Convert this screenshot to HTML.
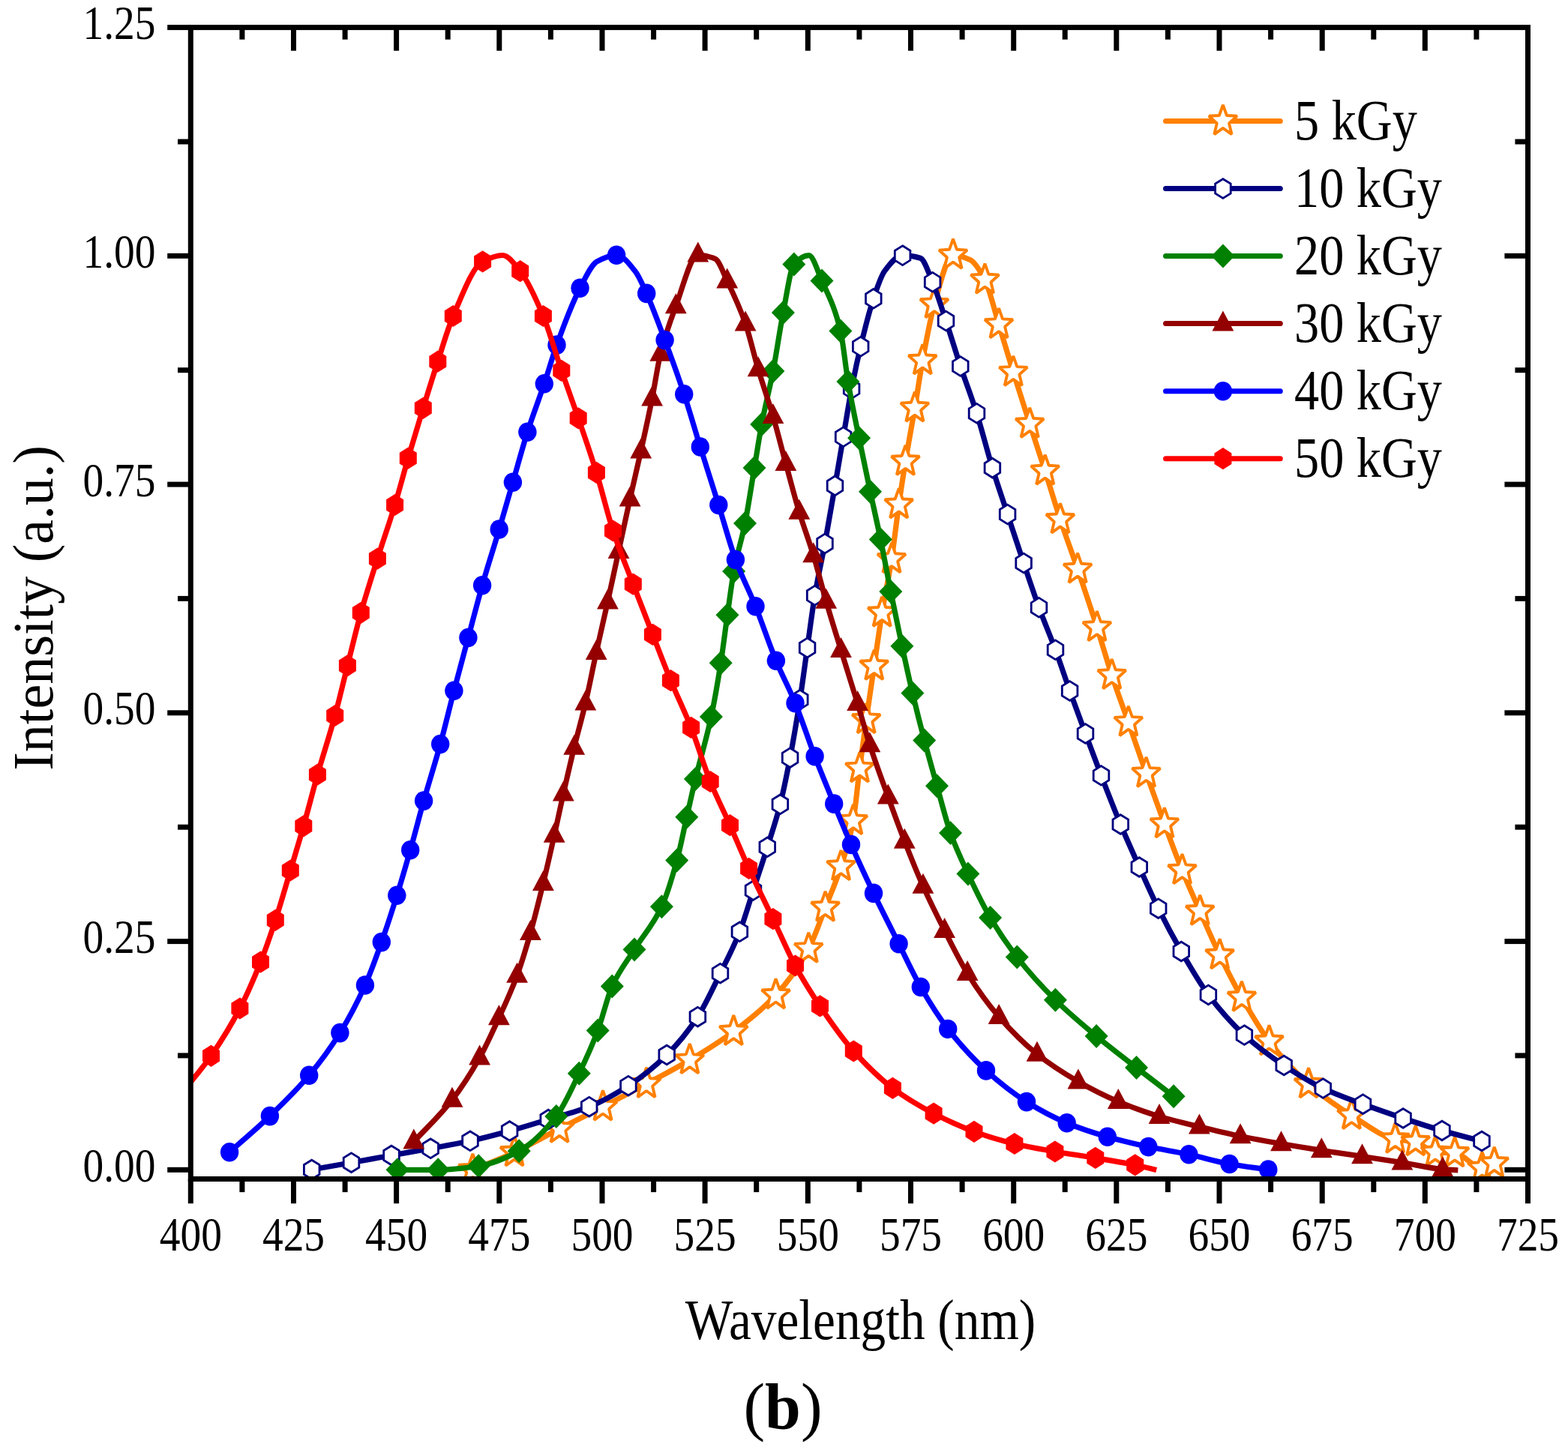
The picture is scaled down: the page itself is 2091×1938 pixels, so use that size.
<!DOCTYPE html>
<html><head><meta charset="utf-8"><title>Intensity vs Wavelength</title>
<style>html,body{margin:0;padding:0;background:#fff;overflow:hidden}svg{display:block}</style>
</head><body>
<svg width="2091" height="1938" viewBox="0 0 2091 1938">
<rect width="100%" height="100%" fill="#fff"/>
<defs><clipPath id="pa"><rect x="254.3" y="36.6" width="1783.2" height="1535.9"/></clipPath></defs>
<g clip-path="url(#pa)">
<path d="M630.4,1560.5 C648.9,1552.7 667.5,1545.7 686.0,1537.0 C706.0,1527.6 726.1,1515.8 746.1,1505.5 C765.4,1495.6 784.7,1486.2 804.0,1476.2 C823.3,1466.2 842.7,1456.1 862.0,1445.7 C881.3,1435.3 900.5,1425.4 919.8,1413.9 C939.3,1402.3 958.8,1390.3 978.3,1375.8 C997.1,1361.9 1015.8,1347.5 1034.6,1327.2 C1049.2,1311.4 1063.7,1292.5 1078.3,1265.6 C1085.7,1251.8 1093.2,1229.4 1100.6,1210.5 C1107.6,1192.8 1114.5,1177.4 1121.5,1155.8 C1126.9,1139.0 1132.4,1123.8 1137.8,1094.9 C1140.7,1079.7 1143.5,1047.3 1146.4,1025.1 C1149.3,1002.4 1152.3,980.7 1155.2,959.9 C1158.7,935.0 1162.2,912.2 1165.7,888.5 C1169.2,864.8 1172.7,839.0 1176.2,817.5 C1180.5,791.3 1184.7,773.4 1189.0,745.8 C1192.2,724.9 1195.5,695.6 1198.7,673.0 C1201.6,652.5 1204.6,633.5 1207.5,615.5 C1211.6,590.1 1215.8,568.7 1219.9,544.3 C1223.4,523.8 1226.8,499.8 1230.3,481.0 C1235.5,452.8 1240.7,423.9 1245.9,405.9 C1254.3,376.9 1262.6,340.3 1271.0,340.3 C1278.5,340.3 1286.1,343.0 1293.6,346.5 C1300.2,349.6 1306.8,360.7 1313.4,373.3 C1319.6,385.1 1325.8,412.7 1332.0,432.9 C1338.4,453.8 1344.9,475.9 1351.3,496.6 C1358.6,520.1 1365.9,542.8 1373.2,565.5 C1380.0,586.7 1386.9,606.9 1393.7,628.3 C1400.4,649.4 1407.2,672.6 1413.9,693.0 C1421.6,716.4 1429.4,736.7 1437.1,759.3 C1445.7,784.5 1454.3,810.0 1462.9,836.8 C1469.5,857.4 1476.1,880.8 1482.7,900.8 C1490.1,923.1 1497.4,942.6 1504.8,963.6 C1512.7,986.2 1520.6,1009.3 1528.5,1031.6 C1536.6,1054.5 1544.8,1077.2 1552.9,1099.1 C1560.8,1120.3 1568.6,1141.6 1576.5,1160.9 C1584.4,1180.3 1592.3,1197.6 1600.2,1215.5 C1609.0,1235.4 1617.8,1255.8 1626.6,1274.0 C1636.4,1294.2 1646.1,1313.4 1655.9,1330.5 C1668.1,1351.9 1680.3,1373.0 1692.5,1389.0 C1710.0,1411.9 1727.5,1430.7 1745.0,1446.0 C1764.1,1462.7 1783.3,1475.8 1802.4,1487.7 C1821.8,1499.8 1841.2,1515.7 1860.6,1519.5 C1869.6,1521.3 1878.7,1521.1 1887.7,1523.0 C1896.5,1524.8 1905.2,1536.4 1914.0,1537.0 C1922.7,1537.6 1931.3,1537.4 1940.0,1538.0 C1952.2,1538.8 1964.3,1558.0 1976.5,1558.0 C1981.9,1558.0 1987.3,1553.7 1992.7,1551.5" fill="none" stroke="#FF8000" stroke-width="7.2" stroke-linejoin="round" stroke-linecap="butt"/>
<polygon points="630.4,1538.8 635.4,1553.0 649.2,1553.8 638.5,1563.4 642.0,1578.1 630.4,1569.8 618.8,1578.1 622.3,1563.4 611.6,1553.8 625.4,1553.0" fill="#fff" stroke="#FF8000" stroke-width="3.9" stroke-linejoin="bevel"/>
<polygon points="686.0,1515.3 691.0,1529.5 704.8,1530.3 694.1,1539.9 697.6,1554.6 686.0,1546.3 674.4,1554.6 677.9,1539.9 667.2,1530.3 681.0,1529.5" fill="#fff" stroke="#FF8000" stroke-width="3.9" stroke-linejoin="bevel"/>
<polygon points="746.1,1483.8 751.1,1498.0 764.9,1498.8 754.2,1508.4 757.7,1523.1 746.1,1514.8 734.5,1523.1 738.0,1508.4 727.3,1498.8 741.1,1498.0" fill="#fff" stroke="#FF8000" stroke-width="3.9" stroke-linejoin="bevel"/>
<polygon points="804.0,1454.5 809.0,1468.7 822.8,1469.5 812.1,1479.1 815.6,1493.8 804.0,1485.5 792.4,1493.8 795.9,1479.1 785.2,1469.5 799.0,1468.7" fill="#fff" stroke="#FF8000" stroke-width="3.9" stroke-linejoin="bevel"/>
<polygon points="862.0,1424.0 867.0,1438.2 880.8,1439.0 870.1,1448.6 873.6,1463.3 862.0,1455.0 850.4,1463.3 853.9,1448.6 843.2,1439.0 857.0,1438.2" fill="#fff" stroke="#FF8000" stroke-width="3.9" stroke-linejoin="bevel"/>
<polygon points="919.8,1392.2 924.8,1406.4 938.6,1407.2 927.9,1416.8 931.4,1431.5 919.8,1423.2 908.2,1431.5 911.7,1416.8 901.0,1407.2 914.8,1406.4" fill="#fff" stroke="#FF8000" stroke-width="3.9" stroke-linejoin="bevel"/>
<polygon points="978.3,1354.1 983.3,1368.3 997.1,1369.1 986.4,1378.7 989.9,1393.4 978.3,1385.1 966.7,1393.4 970.2,1378.7 959.5,1369.1 973.3,1368.3" fill="#fff" stroke="#FF8000" stroke-width="3.9" stroke-linejoin="bevel"/>
<polygon points="1034.6,1305.5 1039.6,1319.7 1053.4,1320.5 1042.7,1330.1 1046.2,1344.8 1034.6,1336.5 1023.0,1344.8 1026.5,1330.1 1015.8,1320.5 1029.6,1319.7" fill="#fff" stroke="#FF8000" stroke-width="3.9" stroke-linejoin="bevel"/>
<polygon points="1078.3,1243.9 1083.3,1258.1 1097.1,1258.9 1086.4,1268.5 1089.9,1283.2 1078.3,1274.9 1066.7,1283.2 1070.2,1268.5 1059.5,1258.9 1073.3,1258.1" fill="#fff" stroke="#FF8000" stroke-width="3.9" stroke-linejoin="bevel"/>
<polygon points="1100.6,1188.8 1105.6,1203.0 1119.4,1203.8 1108.7,1213.4 1112.2,1228.1 1100.6,1219.8 1089.0,1228.1 1092.5,1213.4 1081.8,1203.8 1095.6,1203.0" fill="#fff" stroke="#FF8000" stroke-width="3.9" stroke-linejoin="bevel"/>
<polygon points="1121.5,1134.1 1126.5,1148.3 1140.3,1149.1 1129.6,1158.7 1133.1,1173.4 1121.5,1165.1 1109.9,1173.4 1113.4,1158.7 1102.7,1149.1 1116.5,1148.3" fill="#fff" stroke="#FF8000" stroke-width="3.9" stroke-linejoin="bevel"/>
<polygon points="1137.8,1073.2 1142.8,1087.4 1156.6,1088.2 1145.9,1097.8 1149.4,1112.5 1137.8,1104.2 1126.2,1112.5 1129.7,1097.8 1119.0,1088.2 1132.8,1087.4" fill="#fff" stroke="#FF8000" stroke-width="3.9" stroke-linejoin="bevel"/>
<polygon points="1146.4,1003.4 1151.4,1017.6 1165.2,1018.4 1154.5,1028.0 1158.0,1042.7 1146.4,1034.4 1134.8,1042.7 1138.3,1028.0 1127.6,1018.4 1141.4,1017.6" fill="#fff" stroke="#FF8000" stroke-width="3.9" stroke-linejoin="bevel"/>
<polygon points="1155.2,938.2 1160.2,952.4 1174.0,953.2 1163.3,962.8 1166.8,977.5 1155.2,969.2 1143.6,977.5 1147.1,962.8 1136.4,953.2 1150.2,952.4" fill="#fff" stroke="#FF8000" stroke-width="3.9" stroke-linejoin="bevel"/>
<polygon points="1165.7,866.8 1170.7,881.0 1184.5,881.8 1173.8,891.4 1177.3,906.1 1165.7,897.8 1154.1,906.1 1157.6,891.4 1146.9,881.8 1160.7,881.0" fill="#fff" stroke="#FF8000" stroke-width="3.9" stroke-linejoin="bevel"/>
<polygon points="1176.2,795.8 1181.2,810.0 1195.0,810.8 1184.3,820.4 1187.8,835.1 1176.2,826.8 1164.6,835.1 1168.1,820.4 1157.4,810.8 1171.2,810.0" fill="#fff" stroke="#FF8000" stroke-width="3.9" stroke-linejoin="bevel"/>
<polygon points="1189.0,724.1 1194.0,738.3 1207.8,739.1 1197.1,748.7 1200.6,763.4 1189.0,755.1 1177.4,763.4 1180.9,748.7 1170.2,739.1 1184.0,738.3" fill="#fff" stroke="#FF8000" stroke-width="3.9" stroke-linejoin="bevel"/>
<polygon points="1198.7,651.3 1203.7,665.5 1217.5,666.3 1206.8,675.9 1210.3,690.6 1198.7,682.3 1187.1,690.6 1190.6,675.9 1179.9,666.3 1193.7,665.5" fill="#fff" stroke="#FF8000" stroke-width="3.9" stroke-linejoin="bevel"/>
<polygon points="1207.5,593.8 1212.5,608.0 1226.3,608.8 1215.6,618.4 1219.1,633.1 1207.5,624.8 1195.9,633.1 1199.4,618.4 1188.7,608.8 1202.5,608.0" fill="#fff" stroke="#FF8000" stroke-width="3.9" stroke-linejoin="bevel"/>
<polygon points="1219.9,522.6 1224.9,536.8 1238.7,537.6 1228.0,547.2 1231.5,561.9 1219.9,553.6 1208.3,561.9 1211.8,547.2 1201.1,537.6 1214.9,536.8" fill="#fff" stroke="#FF8000" stroke-width="3.9" stroke-linejoin="bevel"/>
<polygon points="1230.3,459.3 1235.3,473.5 1249.1,474.3 1238.4,483.9 1241.9,498.6 1230.3,490.3 1218.7,498.6 1222.2,483.9 1211.5,474.3 1225.3,473.5" fill="#fff" stroke="#FF8000" stroke-width="3.9" stroke-linejoin="bevel"/>
<polygon points="1245.9,384.2 1250.9,398.4 1264.7,399.2 1254.0,408.8 1257.5,423.5 1245.9,415.2 1234.3,423.5 1237.8,408.8 1227.1,399.2 1240.9,398.4" fill="#fff" stroke="#FF8000" stroke-width="3.9" stroke-linejoin="bevel"/>
<polygon points="1271.0,318.6 1276.0,332.8 1289.8,333.6 1279.1,343.2 1282.6,357.9 1271.0,349.6 1259.4,357.9 1262.9,343.2 1252.2,333.6 1266.0,332.8" fill="#fff" stroke="#FF8000" stroke-width="3.9" stroke-linejoin="bevel"/>
<polygon points="1313.4,351.6 1318.4,365.8 1332.2,366.6 1321.5,376.2 1325.0,390.9 1313.4,382.6 1301.8,390.9 1305.3,376.2 1294.6,366.6 1308.4,365.8" fill="#fff" stroke="#FF8000" stroke-width="3.9" stroke-linejoin="bevel"/>
<polygon points="1332.0,411.2 1337.0,425.4 1350.8,426.2 1340.1,435.8 1343.6,450.5 1332.0,442.2 1320.4,450.5 1323.9,435.8 1313.2,426.2 1327.0,425.4" fill="#fff" stroke="#FF8000" stroke-width="3.9" stroke-linejoin="bevel"/>
<polygon points="1351.3,474.9 1356.3,489.1 1370.1,489.9 1359.4,499.5 1362.9,514.2 1351.3,505.9 1339.7,514.2 1343.2,499.5 1332.5,489.9 1346.3,489.1" fill="#fff" stroke="#FF8000" stroke-width="3.9" stroke-linejoin="bevel"/>
<polygon points="1373.2,543.8 1378.2,558.0 1392.0,558.8 1381.3,568.4 1384.8,583.1 1373.2,574.8 1361.6,583.1 1365.1,568.4 1354.4,558.8 1368.2,558.0" fill="#fff" stroke="#FF8000" stroke-width="3.9" stroke-linejoin="bevel"/>
<polygon points="1393.7,606.6 1398.7,620.8 1412.5,621.6 1401.8,631.2 1405.3,645.9 1393.7,637.6 1382.1,645.9 1385.6,631.2 1374.9,621.6 1388.7,620.8" fill="#fff" stroke="#FF8000" stroke-width="3.9" stroke-linejoin="bevel"/>
<polygon points="1413.9,671.3 1418.9,685.5 1432.7,686.3 1422.0,695.9 1425.5,710.6 1413.9,702.3 1402.3,710.6 1405.8,695.9 1395.1,686.3 1408.9,685.5" fill="#fff" stroke="#FF8000" stroke-width="3.9" stroke-linejoin="bevel"/>
<polygon points="1437.1,737.6 1442.1,751.8 1455.9,752.6 1445.2,762.2 1448.7,776.9 1437.1,768.6 1425.5,776.9 1429.0,762.2 1418.3,752.6 1432.1,751.8" fill="#fff" stroke="#FF8000" stroke-width="3.9" stroke-linejoin="bevel"/>
<polygon points="1462.9,815.1 1467.9,829.3 1481.7,830.1 1471.0,839.7 1474.5,854.4 1462.9,846.1 1451.3,854.4 1454.8,839.7 1444.1,830.1 1457.9,829.3" fill="#fff" stroke="#FF8000" stroke-width="3.9" stroke-linejoin="bevel"/>
<polygon points="1482.7,879.1 1487.7,893.3 1501.5,894.1 1490.8,903.7 1494.3,918.4 1482.7,910.1 1471.1,918.4 1474.6,903.7 1463.9,894.1 1477.7,893.3" fill="#fff" stroke="#FF8000" stroke-width="3.9" stroke-linejoin="bevel"/>
<polygon points="1504.8,941.9 1509.8,956.1 1523.6,956.9 1512.9,966.5 1516.4,981.2 1504.8,972.9 1493.2,981.2 1496.7,966.5 1486.0,956.9 1499.8,956.1" fill="#fff" stroke="#FF8000" stroke-width="3.9" stroke-linejoin="bevel"/>
<polygon points="1528.5,1009.9 1533.5,1024.1 1547.3,1024.9 1536.6,1034.5 1540.1,1049.2 1528.5,1040.9 1516.9,1049.2 1520.4,1034.5 1509.7,1024.9 1523.5,1024.1" fill="#fff" stroke="#FF8000" stroke-width="3.9" stroke-linejoin="bevel"/>
<polygon points="1552.9,1077.4 1557.9,1091.6 1571.7,1092.4 1561.0,1102.0 1564.5,1116.7 1552.9,1108.4 1541.3,1116.7 1544.8,1102.0 1534.1,1092.4 1547.9,1091.6" fill="#fff" stroke="#FF8000" stroke-width="3.9" stroke-linejoin="bevel"/>
<polygon points="1576.5,1139.2 1581.5,1153.4 1595.3,1154.2 1584.6,1163.8 1588.1,1178.5 1576.5,1170.2 1564.9,1178.5 1568.4,1163.8 1557.7,1154.2 1571.5,1153.4" fill="#fff" stroke="#FF8000" stroke-width="3.9" stroke-linejoin="bevel"/>
<polygon points="1600.2,1193.8 1605.2,1208.0 1619.0,1208.8 1608.3,1218.4 1611.8,1233.1 1600.2,1224.8 1588.6,1233.1 1592.1,1218.4 1581.4,1208.8 1595.2,1208.0" fill="#fff" stroke="#FF8000" stroke-width="3.9" stroke-linejoin="bevel"/>
<polygon points="1626.6,1252.3 1631.6,1266.5 1645.4,1267.3 1634.7,1276.9 1638.2,1291.6 1626.6,1283.3 1615.0,1291.6 1618.5,1276.9 1607.8,1267.3 1621.6,1266.5" fill="#fff" stroke="#FF8000" stroke-width="3.9" stroke-linejoin="bevel"/>
<polygon points="1655.9,1308.8 1660.9,1323.0 1674.7,1323.8 1664.0,1333.4 1667.5,1348.1 1655.9,1339.8 1644.3,1348.1 1647.8,1333.4 1637.1,1323.8 1650.9,1323.0" fill="#fff" stroke="#FF8000" stroke-width="3.9" stroke-linejoin="bevel"/>
<polygon points="1692.5,1367.3 1697.5,1381.5 1711.3,1382.3 1700.6,1391.9 1704.1,1406.6 1692.5,1398.3 1680.9,1406.6 1684.4,1391.9 1673.7,1382.3 1687.5,1381.5" fill="#fff" stroke="#FF8000" stroke-width="3.9" stroke-linejoin="bevel"/>
<polygon points="1745.0,1424.3 1750.0,1438.5 1763.8,1439.3 1753.1,1448.9 1756.6,1463.6 1745.0,1455.3 1733.4,1463.6 1736.9,1448.9 1726.2,1439.3 1740.0,1438.5" fill="#fff" stroke="#FF8000" stroke-width="3.9" stroke-linejoin="bevel"/>
<polygon points="1802.4,1466.0 1807.4,1480.2 1821.2,1481.0 1810.5,1490.6 1814.0,1505.3 1802.4,1497.0 1790.8,1505.3 1794.3,1490.6 1783.6,1481.0 1797.4,1480.2" fill="#fff" stroke="#FF8000" stroke-width="3.9" stroke-linejoin="bevel"/>
<polygon points="1860.6,1497.8 1865.6,1512.0 1879.4,1512.8 1868.7,1522.4 1872.2,1537.1 1860.6,1528.8 1849.0,1537.1 1852.5,1522.4 1841.8,1512.8 1855.6,1512.0" fill="#fff" stroke="#FF8000" stroke-width="3.9" stroke-linejoin="bevel"/>
<polygon points="1887.7,1501.3 1892.7,1515.5 1906.5,1516.3 1895.8,1525.9 1899.3,1540.6 1887.7,1532.3 1876.1,1540.6 1879.6,1525.9 1868.9,1516.3 1882.7,1515.5" fill="#fff" stroke="#FF8000" stroke-width="3.9" stroke-linejoin="bevel"/>
<polygon points="1914.0,1515.3 1919.0,1529.5 1932.8,1530.3 1922.1,1539.9 1925.6,1554.6 1914.0,1546.3 1902.4,1554.6 1905.9,1539.9 1895.2,1530.3 1909.0,1529.5" fill="#fff" stroke="#FF8000" stroke-width="3.9" stroke-linejoin="bevel"/>
<polygon points="1940.0,1516.3 1945.0,1530.5 1958.8,1531.3 1948.1,1540.9 1951.6,1555.6 1940.0,1547.3 1928.4,1555.6 1931.9,1540.9 1921.2,1531.3 1935.0,1530.5" fill="#fff" stroke="#FF8000" stroke-width="3.9" stroke-linejoin="bevel"/>
<polygon points="1976.5,1536.3 1981.5,1550.5 1995.3,1551.3 1984.6,1560.9 1988.1,1575.6 1976.5,1567.3 1964.9,1575.6 1968.4,1560.9 1957.7,1551.3 1971.5,1550.5" fill="#fff" stroke="#FF8000" stroke-width="3.9" stroke-linejoin="bevel"/>
<polygon points="1992.7,1529.8 1997.7,1544.0 2011.5,1544.8 2000.8,1554.4 2004.3,1569.1 1992.7,1560.8 1981.1,1569.1 1984.6,1554.4 1973.9,1544.8 1987.7,1544.0" fill="#fff" stroke="#FF8000" stroke-width="3.9" stroke-linejoin="bevel"/>
<path d="M415.7,1560.0 C433.3,1556.9 450.9,1553.8 468.5,1550.7 C486.3,1547.5 504.2,1544.2 522.0,1541.0 C539.4,1537.9 556.8,1535.0 574.2,1531.8 C591.8,1528.6 609.4,1525.6 627.0,1521.8 C644.5,1518.0 662.1,1513.3 679.6,1508.5 C696.8,1503.8 714.0,1498.3 731.2,1493.1 C749.4,1487.6 767.5,1483.4 785.7,1476.2 C803.1,1469.3 820.5,1459.4 837.9,1448.2 C855.0,1437.2 872.1,1423.8 889.2,1407.0 C902.9,1393.5 916.7,1377.1 930.4,1356.2 C940.4,1340.9 950.5,1318.6 960.5,1298.2 C969.1,1280.7 977.8,1264.7 986.4,1242.8 C992.4,1227.5 998.5,1206.1 1004.5,1187.6 C1010.8,1168.4 1017.0,1149.9 1023.3,1129.8 C1029.0,1111.6 1034.7,1095.2 1040.4,1072.8 C1044.8,1055.5 1049.2,1033.6 1053.6,1010.6 C1058.0,987.6 1062.4,961.5 1066.8,933.2 C1070.1,912.2 1073.3,886.9 1076.6,864.0 C1079.9,840.6 1083.3,814.1 1086.6,794.2 C1091.1,767.5 1095.5,749.2 1100.0,725.0 C1104.5,700.6 1109.0,674.0 1113.5,647.9 C1117.2,626.5 1120.9,604.3 1124.6,582.7 C1128.3,561.3 1131.9,537.7 1135.6,518.7 C1139.6,497.8 1143.7,479.0 1147.7,462.2 C1153.4,438.4 1159.1,415.3 1164.8,398.4 C1169.7,383.8 1174.7,368.3 1179.6,361.7 C1187.6,350.9 1195.6,340.7 1203.6,340.7 C1211.5,340.7 1219.4,341.9 1227.3,344.2 C1232.7,345.8 1238.2,363.6 1243.6,376.3 C1249.6,390.2 1255.5,410.1 1261.5,428.0 C1267.9,447.3 1274.4,469.1 1280.8,488.5 C1288.0,510.3 1295.3,528.4 1302.5,551.3 C1309.5,573.3 1316.4,601.4 1323.4,624.1 C1330.1,646.0 1336.9,665.5 1343.6,686.0 C1350.8,707.8 1357.9,729.8 1365.1,751.0 C1371.9,771.2 1378.7,791.7 1385.5,810.3 C1392.8,830.3 1400.2,846.9 1407.5,866.8 C1413.9,884.1 1420.2,903.7 1426.6,921.5 C1433.6,941.0 1440.5,959.7 1447.5,978.5 C1454.5,997.4 1461.5,1016.2 1468.5,1034.4 C1477.1,1056.7 1485.7,1078.9 1494.3,1099.5 C1502.6,1119.5 1511.0,1138.0 1519.3,1156.5 C1527.8,1175.3 1536.2,1194.6 1544.7,1211.7 C1554.9,1232.3 1565.1,1251.3 1575.3,1269.0 C1587.3,1289.8 1599.4,1310.9 1611.4,1326.9 C1627.4,1348.2 1643.4,1366.0 1659.4,1380.6 C1677.0,1396.6 1694.6,1409.3 1712.2,1421.0 C1729.6,1432.5 1746.9,1443.4 1764.3,1451.6 C1782.0,1460.0 1799.8,1466.1 1817.5,1472.7 C1835.4,1479.4 1853.2,1485.5 1871.1,1491.5 C1888.4,1497.3 1905.7,1503.0 1923.0,1508.0 C1940.7,1513.1 1958.3,1517.3 1976.0,1522.0" fill="none" stroke="#000080" stroke-width="7.2" stroke-linejoin="round" stroke-linecap="butt"/>
<polygon points="415.7,1547.2 426.0,1553.6 426.0,1566.4 415.7,1572.8 405.4,1566.4 405.4,1553.6" fill="#fff" stroke="#000080" stroke-width="2.8"/>
<polygon points="468.5,1537.9 478.8,1544.3 478.8,1557.1 468.5,1563.5 458.2,1557.1 458.2,1544.3" fill="#fff" stroke="#000080" stroke-width="2.8"/>
<polygon points="522.0,1528.2 532.3,1534.6 532.3,1547.4 522.0,1553.8 511.7,1547.4 511.7,1534.6" fill="#fff" stroke="#000080" stroke-width="2.8"/>
<polygon points="574.2,1519.0 584.5,1525.4 584.5,1538.2 574.2,1544.6 563.9,1538.2 563.9,1525.4" fill="#fff" stroke="#000080" stroke-width="2.8"/>
<polygon points="627.0,1509.0 637.3,1515.4 637.3,1528.2 627.0,1534.6 616.7,1528.2 616.7,1515.4" fill="#fff" stroke="#000080" stroke-width="2.8"/>
<polygon points="679.6,1495.7 689.9,1502.1 689.9,1514.9 679.6,1521.3 669.3,1514.9 669.3,1502.1" fill="#fff" stroke="#000080" stroke-width="2.8"/>
<polygon points="731.2,1480.2 741.5,1486.7 741.5,1499.5 731.2,1505.9 720.9,1499.5 720.9,1486.7" fill="#fff" stroke="#000080" stroke-width="2.8"/>
<polygon points="785.7,1463.4 796.0,1469.8 796.0,1482.6 785.7,1489.0 775.4,1482.6 775.4,1469.8" fill="#fff" stroke="#000080" stroke-width="2.8"/>
<polygon points="837.9,1435.4 848.2,1441.8 848.2,1454.6 837.9,1461.0 827.6,1454.6 827.6,1441.8" fill="#fff" stroke="#000080" stroke-width="2.8"/>
<polygon points="889.2,1394.2 899.5,1400.6 899.5,1413.4 889.2,1419.8 878.9,1413.4 878.9,1400.6" fill="#fff" stroke="#000080" stroke-width="2.8"/>
<polygon points="930.4,1343.4 940.7,1349.8 940.7,1362.6 930.4,1369.0 920.1,1362.6 920.1,1349.8" fill="#fff" stroke="#000080" stroke-width="2.8"/>
<polygon points="960.5,1285.4 970.8,1291.8 970.8,1304.6 960.5,1311.0 950.2,1304.6 950.2,1291.8" fill="#fff" stroke="#000080" stroke-width="2.8"/>
<polygon points="986.4,1230.0 996.7,1236.4 996.7,1249.2 986.4,1255.6 976.1,1249.2 976.1,1236.4" fill="#fff" stroke="#000080" stroke-width="2.8"/>
<polygon points="1004.5,1174.8 1014.8,1181.2 1014.8,1194.0 1004.5,1200.4 994.2,1194.0 994.2,1181.2" fill="#fff" stroke="#000080" stroke-width="2.8"/>
<polygon points="1023.3,1117.0 1033.6,1123.4 1033.6,1136.2 1023.3,1142.6 1013.0,1136.2 1013.0,1123.4" fill="#fff" stroke="#000080" stroke-width="2.8"/>
<polygon points="1040.4,1060.0 1050.7,1066.4 1050.7,1079.2 1040.4,1085.6 1030.1,1079.2 1030.1,1066.4" fill="#fff" stroke="#000080" stroke-width="2.8"/>
<polygon points="1053.6,997.8 1063.9,1004.2 1063.9,1017.0 1053.6,1023.5 1043.3,1017.0 1043.3,1004.2" fill="#fff" stroke="#000080" stroke-width="2.8"/>
<polygon points="1066.8,920.4 1077.1,926.8 1077.1,939.6 1066.8,946.1 1056.5,939.6 1056.5,926.8" fill="#fff" stroke="#000080" stroke-width="2.8"/>
<polygon points="1076.6,851.1 1086.9,857.6 1086.9,870.4 1076.6,876.9 1066.3,870.4 1066.3,857.6" fill="#fff" stroke="#000080" stroke-width="2.8"/>
<polygon points="1086.6,781.4 1096.9,787.8 1096.9,800.6 1086.6,807.1 1076.3,800.6 1076.3,787.8" fill="#fff" stroke="#000080" stroke-width="2.8"/>
<polygon points="1100.0,712.1 1110.3,718.6 1110.3,731.4 1100.0,737.9 1089.7,731.4 1089.7,718.6" fill="#fff" stroke="#000080" stroke-width="2.8"/>
<polygon points="1113.5,635.0 1123.8,641.5 1123.8,654.3 1113.5,660.8 1103.2,654.3 1103.2,641.5" fill="#fff" stroke="#000080" stroke-width="2.8"/>
<polygon points="1124.6,569.9 1134.9,576.3 1134.9,589.1 1124.6,595.6 1114.3,589.1 1114.3,576.3" fill="#fff" stroke="#000080" stroke-width="2.8"/>
<polygon points="1135.6,505.9 1145.9,512.3 1145.9,525.1 1135.6,531.6 1125.3,525.1 1125.3,512.3" fill="#fff" stroke="#000080" stroke-width="2.8"/>
<polygon points="1147.7,449.3 1158.0,455.8 1158.0,468.6 1147.7,475.1 1137.4,468.6 1137.4,455.8" fill="#fff" stroke="#000080" stroke-width="2.8"/>
<polygon points="1164.8,385.5 1175.1,392.0 1175.1,404.8 1164.8,411.2 1154.5,404.8 1154.5,392.0" fill="#fff" stroke="#000080" stroke-width="2.8"/>
<polygon points="1203.6,327.8 1213.9,334.3 1213.9,347.1 1203.6,353.6 1193.3,347.1 1193.3,334.3" fill="#fff" stroke="#000080" stroke-width="2.8"/>
<polygon points="1243.6,363.4 1253.9,369.9 1253.9,382.7 1243.6,389.2 1233.3,382.7 1233.3,369.9" fill="#fff" stroke="#000080" stroke-width="2.8"/>
<polygon points="1261.5,415.1 1271.8,421.6 1271.8,434.4 1261.5,440.9 1251.2,434.4 1251.2,421.6" fill="#fff" stroke="#000080" stroke-width="2.8"/>
<polygon points="1280.8,475.6 1291.1,482.1 1291.1,494.9 1280.8,501.4 1270.5,494.9 1270.5,482.1" fill="#fff" stroke="#000080" stroke-width="2.8"/>
<polygon points="1302.5,538.4 1312.8,544.9 1312.8,557.7 1302.5,564.1 1292.2,557.7 1292.2,544.9" fill="#fff" stroke="#000080" stroke-width="2.8"/>
<polygon points="1323.4,611.2 1333.7,617.7 1333.7,630.5 1323.4,637.0 1313.1,630.5 1313.1,617.7" fill="#fff" stroke="#000080" stroke-width="2.8"/>
<polygon points="1343.6,673.1 1353.9,679.6 1353.9,692.4 1343.6,698.9 1333.3,692.4 1333.3,679.6" fill="#fff" stroke="#000080" stroke-width="2.8"/>
<polygon points="1365.1,738.1 1375.4,744.6 1375.4,757.4 1365.1,763.9 1354.8,757.4 1354.8,744.6" fill="#fff" stroke="#000080" stroke-width="2.8"/>
<polygon points="1385.5,797.4 1395.8,803.9 1395.8,816.7 1385.5,823.1 1375.2,816.7 1375.2,803.9" fill="#fff" stroke="#000080" stroke-width="2.8"/>
<polygon points="1407.5,853.9 1417.8,860.4 1417.8,873.2 1407.5,879.6 1397.2,873.2 1397.2,860.4" fill="#fff" stroke="#000080" stroke-width="2.8"/>
<polygon points="1426.6,908.6 1436.9,915.1 1436.9,927.9 1426.6,934.4 1416.3,927.9 1416.3,915.1" fill="#fff" stroke="#000080" stroke-width="2.8"/>
<polygon points="1447.5,965.6 1457.8,972.1 1457.8,984.9 1447.5,991.4 1437.2,984.9 1437.2,972.1" fill="#fff" stroke="#000080" stroke-width="2.8"/>
<polygon points="1468.5,1021.6 1478.8,1028.0 1478.8,1040.8 1468.5,1047.2 1458.2,1040.8 1458.2,1028.0" fill="#fff" stroke="#000080" stroke-width="2.8"/>
<polygon points="1494.3,1086.7 1504.6,1093.1 1504.6,1105.9 1494.3,1112.3 1484.0,1105.9 1484.0,1093.1" fill="#fff" stroke="#000080" stroke-width="2.8"/>
<polygon points="1519.3,1143.7 1529.6,1150.1 1529.6,1162.9 1519.3,1169.3 1509.0,1162.9 1509.0,1150.1" fill="#fff" stroke="#000080" stroke-width="2.8"/>
<polygon points="1544.7,1198.9 1555.0,1205.3 1555.0,1218.1 1544.7,1224.5 1534.4,1218.1 1534.4,1205.3" fill="#fff" stroke="#000080" stroke-width="2.8"/>
<polygon points="1575.3,1256.2 1585.6,1262.6 1585.6,1275.4 1575.3,1281.8 1565.0,1275.4 1565.0,1262.6" fill="#fff" stroke="#000080" stroke-width="2.8"/>
<polygon points="1611.4,1314.1 1621.7,1320.5 1621.7,1333.3 1611.4,1339.8 1601.1,1333.3 1601.1,1320.5" fill="#fff" stroke="#000080" stroke-width="2.8"/>
<polygon points="1659.4,1367.8 1669.7,1374.2 1669.7,1387.0 1659.4,1393.4 1649.1,1387.0 1649.1,1374.2" fill="#fff" stroke="#000080" stroke-width="2.8"/>
<polygon points="1712.2,1408.2 1722.5,1414.6 1722.5,1427.4 1712.2,1433.8 1701.9,1427.4 1701.9,1414.6" fill="#fff" stroke="#000080" stroke-width="2.8"/>
<polygon points="1764.3,1438.8 1774.6,1445.2 1774.6,1458.0 1764.3,1464.4 1754.0,1458.0 1754.0,1445.2" fill="#fff" stroke="#000080" stroke-width="2.8"/>
<polygon points="1817.5,1459.9 1827.8,1466.3 1827.8,1479.1 1817.5,1485.5 1807.2,1479.1 1807.2,1466.3" fill="#fff" stroke="#000080" stroke-width="2.8"/>
<polygon points="1871.1,1478.7 1881.4,1485.1 1881.4,1497.9 1871.1,1504.3 1860.8,1497.9 1860.8,1485.1" fill="#fff" stroke="#000080" stroke-width="2.8"/>
<polygon points="1923.0,1495.2 1933.3,1501.6 1933.3,1514.4 1923.0,1520.8 1912.7,1514.4 1912.7,1501.6" fill="#fff" stroke="#000080" stroke-width="2.8"/>
<polygon points="1976.0,1509.2 1986.3,1515.6 1986.3,1528.4 1976.0,1534.8 1965.7,1528.4 1965.7,1515.6" fill="#fff" stroke="#000080" stroke-width="2.8"/>
<path d="M530.0,1560.3 C548.1,1560.3 566.2,1560.3 584.3,1560.3 C602.3,1560.3 620.2,1557.9 638.2,1555.2 C656.2,1552.5 674.2,1544.8 692.2,1535.2 C708.7,1526.4 725.3,1510.1 741.8,1488.9 C752.0,1475.9 762.1,1452.8 772.3,1431.7 C780.6,1414.5 788.9,1396.5 797.2,1374.5 C803.6,1357.6 809.9,1329.5 816.3,1315.5 C826.2,1293.7 836.1,1282.4 846.0,1266.4 C858.1,1246.8 870.3,1235.1 882.4,1209.2 C889.2,1194.8 895.9,1172.3 902.7,1147.6 C907.1,1131.7 911.4,1109.0 915.8,1089.8 C919.7,1072.8 923.5,1055.1 927.4,1039.0 C934.4,1009.8 941.4,988.9 948.4,956.0 C952.7,935.9 956.9,911.5 961.2,884.3 C964.1,865.6 967.1,840.9 970.0,820.3 C972.9,800.2 975.7,777.5 978.6,762.1 C983.6,735.4 988.5,722.8 993.5,698.0 C997.7,677.2 1001.8,648.9 1006.0,624.1 C1009.2,604.9 1012.5,583.1 1015.7,566.0 C1020.8,539.2 1025.8,521.2 1030.9,495.0 C1035.4,471.7 1039.9,439.8 1044.4,417.0 C1049.2,392.7 1054.0,357.6 1058.8,352.4 C1065.4,345.2 1072.0,340.7 1078.6,340.7 C1084.4,340.7 1090.2,361.5 1096.0,374.5 C1104.3,393.0 1112.6,407.5 1120.9,441.5 C1124.2,455.2 1127.6,489.4 1130.9,509.0 C1135.8,537.8 1140.7,560.0 1145.6,584.3 C1150.6,608.9 1155.5,632.3 1160.5,655.7 C1165.1,677.3 1169.7,697.1 1174.3,719.5 C1178.8,741.4 1183.3,766.5 1187.8,788.9 C1192.8,814.0 1197.9,838.3 1202.9,861.7 C1207.6,883.4 1212.2,904.9 1216.9,924.6 C1222.2,946.8 1227.4,967.4 1232.7,987.4 C1238.3,1008.6 1243.9,1028.4 1249.5,1048.3 C1255.5,1069.6 1261.5,1094.1 1267.5,1111.0 C1275.3,1132.9 1283.1,1148.7 1290.9,1165.4 C1300.8,1186.6 1310.7,1207.1 1320.6,1223.9 C1332.5,1244.1 1344.4,1261.3 1356.3,1276.6 C1373.3,1298.5 1390.4,1317.0 1407.4,1333.8 C1425.6,1351.8 1443.9,1366.9 1462.1,1382.1 C1479.9,1396.9 1497.7,1410.3 1515.5,1424.1 C1532.0,1436.9 1548.6,1449.5 1565.1,1462.2" fill="none" stroke="#008000" stroke-width="7.2" stroke-linejoin="round" stroke-linecap="butt"/>
<polygon points="530.0,1544.3 545.5,1560.3 530.0,1576.3 514.5,1560.3" fill="#008000"/>
<polygon points="584.3,1544.3 599.8,1560.3 584.3,1576.3 568.8,1560.3" fill="#008000"/>
<polygon points="638.2,1539.2 653.7,1555.2 638.2,1571.2 622.7,1555.2" fill="#008000"/>
<polygon points="692.2,1519.2 707.7,1535.2 692.2,1551.2 676.7,1535.2" fill="#008000"/>
<polygon points="741.8,1472.9 757.3,1488.9 741.8,1504.9 726.3,1488.9" fill="#008000"/>
<polygon points="772.3,1415.7 787.8,1431.7 772.3,1447.7 756.8,1431.7" fill="#008000"/>
<polygon points="797.2,1358.5 812.7,1374.5 797.2,1390.5 781.7,1374.5" fill="#008000"/>
<polygon points="816.3,1299.5 831.8,1315.5 816.3,1331.5 800.8,1315.5" fill="#008000"/>
<polygon points="846.0,1250.4 861.5,1266.4 846.0,1282.4 830.5,1266.4" fill="#008000"/>
<polygon points="882.4,1193.2 897.9,1209.2 882.4,1225.2 866.9,1209.2" fill="#008000"/>
<polygon points="902.7,1131.6 918.2,1147.6 902.7,1163.6 887.2,1147.6" fill="#008000"/>
<polygon points="915.8,1073.8 931.3,1089.8 915.8,1105.8 900.3,1089.8" fill="#008000"/>
<polygon points="927.4,1023.0 942.9,1039.0 927.4,1055.0 911.9,1039.0" fill="#008000"/>
<polygon points="948.4,940.0 963.9,956.0 948.4,972.0 932.9,956.0" fill="#008000"/>
<polygon points="961.2,868.3 976.7,884.3 961.2,900.3 945.7,884.3" fill="#008000"/>
<polygon points="970.0,804.3 985.5,820.3 970.0,836.3 954.5,820.3" fill="#008000"/>
<polygon points="978.6,746.1 994.1,762.1 978.6,778.1 963.1,762.1" fill="#008000"/>
<polygon points="993.5,682.0 1009.0,698.0 993.5,714.0 978.0,698.0" fill="#008000"/>
<polygon points="1006.0,608.1 1021.5,624.1 1006.0,640.1 990.5,624.1" fill="#008000"/>
<polygon points="1015.7,550.0 1031.2,566.0 1015.7,582.0 1000.2,566.0" fill="#008000"/>
<polygon points="1030.9,479.0 1046.4,495.0 1030.9,511.0 1015.4,495.0" fill="#008000"/>
<polygon points="1044.4,401.0 1059.9,417.0 1044.4,433.0 1028.9,417.0" fill="#008000"/>
<polygon points="1058.8,336.4 1074.3,352.4 1058.8,368.4 1043.3,352.4" fill="#008000"/>
<polygon points="1096.0,358.5 1111.5,374.5 1096.0,390.5 1080.5,374.5" fill="#008000"/>
<polygon points="1120.9,425.5 1136.4,441.5 1120.9,457.5 1105.4,441.5" fill="#008000"/>
<polygon points="1130.9,493.0 1146.4,509.0 1130.9,525.0 1115.4,509.0" fill="#008000"/>
<polygon points="1145.6,568.3 1161.1,584.3 1145.6,600.3 1130.1,584.3" fill="#008000"/>
<polygon points="1160.5,639.7 1176.0,655.7 1160.5,671.7 1145.0,655.7" fill="#008000"/>
<polygon points="1174.3,703.5 1189.8,719.5 1174.3,735.5 1158.8,719.5" fill="#008000"/>
<polygon points="1187.8,772.9 1203.3,788.9 1187.8,804.9 1172.3,788.9" fill="#008000"/>
<polygon points="1202.9,845.7 1218.4,861.7 1202.9,877.7 1187.4,861.7" fill="#008000"/>
<polygon points="1216.9,908.6 1232.4,924.6 1216.9,940.6 1201.4,924.6" fill="#008000"/>
<polygon points="1232.7,971.4 1248.2,987.4 1232.7,1003.4 1217.2,987.4" fill="#008000"/>
<polygon points="1249.5,1032.3 1265.0,1048.3 1249.5,1064.3 1234.0,1048.3" fill="#008000"/>
<polygon points="1267.5,1095.0 1283.0,1111.0 1267.5,1127.0 1252.0,1111.0" fill="#008000"/>
<polygon points="1290.9,1149.4 1306.4,1165.4 1290.9,1181.4 1275.4,1165.4" fill="#008000"/>
<polygon points="1320.6,1207.9 1336.1,1223.9 1320.6,1239.9 1305.1,1223.9" fill="#008000"/>
<polygon points="1356.3,1260.6 1371.8,1276.6 1356.3,1292.6 1340.8,1276.6" fill="#008000"/>
<polygon points="1407.4,1317.8 1422.9,1333.8 1407.4,1349.8 1391.9,1333.8" fill="#008000"/>
<polygon points="1462.1,1366.1 1477.6,1382.1 1462.1,1398.1 1446.6,1382.1" fill="#008000"/>
<polygon points="1515.5,1408.1 1531.0,1424.1 1515.5,1440.1 1500.0,1424.1" fill="#008000"/>
<polygon points="1565.1,1446.2 1580.6,1462.2 1565.1,1478.2 1549.6,1462.2" fill="#008000"/>
<path d="M551.8,1522.8 C568.9,1504.2 585.9,1489.0 603.0,1467.0 C615.2,1451.3 627.4,1432.5 639.6,1410.8 C648.2,1395.5 656.8,1376.3 665.4,1357.4 C673.5,1339.7 681.5,1322.8 689.6,1300.9 C695.5,1284.8 701.5,1265.0 707.4,1244.2 C713.1,1224.3 718.7,1201.3 724.4,1178.1 C729.3,1157.9 734.3,1136.0 739.2,1114.0 C743.2,1096.0 747.3,1076.5 751.3,1058.6 C756.1,1037.3 760.9,1016.6 765.7,996.9 C770.7,976.3 775.8,959.1 780.8,937.6 C785.6,917.1 790.4,892.0 795.2,870.1 C800.3,847.0 805.3,825.6 810.4,802.6 C815.3,780.6 820.1,757.5 825.0,735.1 C830.0,711.9 835.1,688.2 840.1,665.6 C845.0,643.7 849.8,623.6 854.7,601.6 C859.7,579.1 864.6,556.7 869.6,531.8 C873.3,513.1 877.1,487.0 880.8,472.0 C887.6,444.5 894.5,426.7 901.3,408.4 C911.1,382.0 921.0,339.8 930.8,339.8 C935.1,339.8 939.3,341.0 943.6,341.9 C947.1,342.7 950.6,343.5 954.1,345.4 C959.3,348.2 964.5,364.0 969.7,374.7 C977.8,391.5 986.0,408.4 994.1,431.7 C999.8,447.9 1005.4,473.3 1011.1,492.4 C1017.7,514.6 1024.3,532.7 1030.9,555.3 C1036.6,574.7 1042.2,597.6 1047.9,618.3 C1053.9,640.1 1059.8,663.3 1065.8,683.0 C1072.1,703.8 1078.4,719.7 1084.7,740.5 C1090.4,759.2 1096.0,782.4 1101.7,801.9 C1108.3,824.7 1114.9,845.6 1121.5,867.1 C1128.9,891.1 1136.2,914.0 1143.6,938.3 C1149.0,956.2 1154.5,976.5 1159.9,993.4 C1168.0,1018.7 1176.2,1040.3 1184.3,1062.8 C1191.6,1083.1 1199.0,1103.2 1206.3,1122.0 C1214.5,1143.0 1222.7,1163.5 1230.9,1181.9 C1240.5,1203.3 1250.0,1222.3 1259.6,1241.1 C1269.8,1261.1 1279.9,1282.0 1290.1,1298.3 C1304.1,1320.7 1318.1,1340.0 1332.1,1356.1 C1349.1,1375.6 1366.0,1392.5 1383.0,1406.0 C1401.3,1420.6 1419.6,1432.1 1437.9,1442.6 C1455.7,1452.8 1473.5,1461.8 1491.3,1469.3 C1509.5,1477.0 1527.8,1483.6 1546.0,1489.1 C1563.8,1494.4 1581.6,1498.5 1599.4,1502.8 C1617.6,1507.2 1635.9,1511.8 1654.1,1515.5 C1672.2,1519.2 1690.4,1522.3 1708.5,1525.5 C1726.4,1528.6 1744.4,1531.6 1762.3,1534.4 C1780.4,1537.2 1798.4,1539.7 1816.5,1542.4 C1834.3,1545.1 1852.1,1547.8 1869.9,1550.6 C1887.9,1553.5 1905.8,1558.1 1923.8,1559.6 C1930.6,1560.2 1937.5,1560.4 1944.3,1560.8" fill="none" stroke="#940000" stroke-width="7.2" stroke-linejoin="round" stroke-linecap="butt"/>
<polygon points="551.8,1505.6 566.2,1532.6 537.4,1532.6" fill="#940000"/>
<polygon points="603.0,1449.8 617.4,1476.8 588.6,1476.8" fill="#940000"/>
<polygon points="639.6,1393.6 654.0,1420.6 625.2,1420.6" fill="#940000"/>
<polygon points="665.4,1340.2 679.8,1367.2 651.0,1367.2" fill="#940000"/>
<polygon points="689.6,1283.7 704.0,1310.7 675.2,1310.7" fill="#940000"/>
<polygon points="707.4,1227.0 721.8,1254.0 693.0,1254.0" fill="#940000"/>
<polygon points="724.4,1160.9 738.8,1187.9 710.0,1187.9" fill="#940000"/>
<polygon points="739.2,1096.8 753.6,1123.8 724.8,1123.8" fill="#940000"/>
<polygon points="751.3,1041.4 765.7,1068.4 736.9,1068.4" fill="#940000"/>
<polygon points="765.7,979.7 780.1,1006.7 751.3,1006.7" fill="#940000"/>
<polygon points="780.8,920.4 795.2,947.4 766.4,947.4" fill="#940000"/>
<polygon points="795.2,852.9 809.6,879.9 780.8,879.9" fill="#940000"/>
<polygon points="810.4,785.4 824.8,812.4 796.0,812.4" fill="#940000"/>
<polygon points="825.0,717.9 839.4,744.9 810.6,744.9" fill="#940000"/>
<polygon points="840.1,648.4 854.5,675.4 825.7,675.4" fill="#940000"/>
<polygon points="854.7,584.4 869.1,611.4 840.3,611.4" fill="#940000"/>
<polygon points="869.6,514.6 884.0,541.6 855.2,541.6" fill="#940000"/>
<polygon points="880.8,454.8 895.2,481.8 866.4,481.8" fill="#940000"/>
<polygon points="901.3,391.2 915.7,418.2 886.9,418.2" fill="#940000"/>
<polygon points="930.8,322.6 945.2,349.6 916.4,349.6" fill="#940000"/>
<polygon points="969.7,357.5 984.1,384.5 955.3,384.5" fill="#940000"/>
<polygon points="994.1,414.5 1008.5,441.5 979.7,441.5" fill="#940000"/>
<polygon points="1011.1,475.2 1025.5,502.2 996.7,502.2" fill="#940000"/>
<polygon points="1030.9,538.1 1045.3,565.1 1016.5,565.1" fill="#940000"/>
<polygon points="1047.9,601.1 1062.3,628.1 1033.5,628.1" fill="#940000"/>
<polygon points="1065.8,665.8 1080.2,692.8 1051.4,692.8" fill="#940000"/>
<polygon points="1084.7,723.3 1099.1,750.3 1070.3,750.3" fill="#940000"/>
<polygon points="1101.7,784.7 1116.1,811.7 1087.3,811.7" fill="#940000"/>
<polygon points="1121.5,849.9 1135.9,876.9 1107.1,876.9" fill="#940000"/>
<polygon points="1143.6,921.1 1158.0,948.1 1129.2,948.1" fill="#940000"/>
<polygon points="1159.9,976.2 1174.3,1003.2 1145.5,1003.2" fill="#940000"/>
<polygon points="1184.3,1045.6 1198.7,1072.6 1169.9,1072.6" fill="#940000"/>
<polygon points="1206.3,1104.8 1220.7,1131.8 1191.9,1131.8" fill="#940000"/>
<polygon points="1230.9,1164.7 1245.3,1191.7 1216.5,1191.7" fill="#940000"/>
<polygon points="1259.6,1223.9 1274.0,1250.9 1245.2,1250.9" fill="#940000"/>
<polygon points="1290.1,1281.1 1304.5,1308.1 1275.7,1308.1" fill="#940000"/>
<polygon points="1332.1,1338.9 1346.5,1365.9 1317.7,1365.9" fill="#940000"/>
<polygon points="1383.0,1388.8 1397.4,1415.8 1368.6,1415.8" fill="#940000"/>
<polygon points="1437.9,1425.4 1452.3,1452.4 1423.5,1452.4" fill="#940000"/>
<polygon points="1491.3,1452.1 1505.7,1479.1 1476.9,1479.1" fill="#940000"/>
<polygon points="1546.0,1471.9 1560.4,1498.9 1531.6,1498.9" fill="#940000"/>
<polygon points="1599.4,1485.6 1613.8,1512.6 1585.0,1512.6" fill="#940000"/>
<polygon points="1654.1,1498.3 1668.5,1525.3 1639.7,1525.3" fill="#940000"/>
<polygon points="1708.5,1508.3 1722.9,1535.3 1694.1,1535.3" fill="#940000"/>
<polygon points="1762.3,1517.2 1776.7,1544.2 1747.9,1544.2" fill="#940000"/>
<polygon points="1816.5,1525.2 1830.9,1552.2 1802.1,1552.2" fill="#940000"/>
<polygon points="1869.9,1533.4 1884.3,1560.4 1855.5,1560.4" fill="#940000"/>
<polygon points="1923.8,1542.4 1938.2,1569.4 1909.4,1569.4" fill="#940000"/>
<path d="M306.1,1536.7 C324.0,1520.7 342.0,1505.8 359.9,1488.6 C377.3,1471.8 394.8,1455.0 412.2,1434.3 C425.9,1418.0 439.7,1399.6 453.4,1377.6 C464.6,1359.7 475.7,1338.9 486.9,1314.0 C494.2,1297.7 501.5,1277.2 508.8,1256.6 C515.6,1237.3 522.5,1216.1 529.3,1194.2 C535.3,1175.1 541.2,1154.7 547.2,1133.7 C553.2,1112.7 559.1,1089.2 565.1,1068.1 C572.5,1042.0 579.8,1019.4 587.2,992.5 C593.3,970.3 599.3,944.5 605.4,921.3 C611.7,897.1 618.1,874.1 624.4,850.5 C630.6,827.3 636.9,802.6 643.1,780.7 C650.6,754.2 658.2,731.5 665.7,706.0 C671.8,685.5 677.8,664.1 683.9,643.2 C690.4,620.8 696.9,596.6 703.4,576.2 C710.9,552.8 718.3,534.0 725.8,511.7 C731.4,495.1 736.9,475.5 742.5,460.1 C752.8,431.5 763.2,403.7 773.5,384.2 C781.0,370.0 788.5,353.1 796.0,348.9 C804.7,344.1 813.4,340.3 822.1,340.3 C830.4,340.3 838.7,351.5 847.0,361.7 C852.1,367.9 857.1,380.3 862.2,391.4 C870.3,409.2 878.5,431.8 886.6,453.6 C895.1,476.4 903.7,499.9 912.2,525.7 C919.4,547.5 926.6,572.9 933.8,596.0 C942.0,622.2 950.1,647.4 958.3,673.5 C965.8,697.6 973.4,726.0 980.9,746.5 C989.8,770.7 998.6,786.7 1007.5,808.7 C1016.6,831.4 1025.8,859.3 1034.9,881.3 C1043.4,901.8 1052.0,917.0 1060.5,937.8 C1069.2,959.0 1077.9,986.3 1086.6,1008.8 C1095.1,1030.9 1103.7,1051.4 1112.2,1072.1 C1119.8,1090.6 1127.4,1109.2 1135.0,1126.5 C1145.0,1149.2 1155.0,1170.6 1165.0,1191.4 C1176.2,1214.7 1187.4,1236.5 1198.6,1258.8 C1208.3,1278.2 1218.1,1299.6 1227.8,1316.5 C1239.9,1337.6 1252.1,1356.9 1264.2,1372.5 C1281.1,1394.3 1298.1,1412.6 1315.0,1427.9 C1333.0,1444.2 1351.0,1458.3 1369.0,1469.6 C1386.9,1480.8 1404.8,1490.4 1422.7,1497.8 C1440.7,1505.2 1458.8,1511.1 1476.8,1516.2 C1495.0,1521.4 1513.1,1525.7 1531.3,1529.6 C1549.3,1533.4 1567.4,1536.0 1585.4,1539.8 C1603.5,1543.6 1621.5,1549.3 1639.6,1552.5 C1656.8,1555.6 1674.1,1557.5 1691.3,1560.0" fill="none" stroke="#0000FF" stroke-width="7.2" stroke-linejoin="round" stroke-linecap="butt"/>
<ellipse cx="306.1" cy="1536.7" rx="12.2" ry="12.8" fill="#0000FF"/>
<ellipse cx="359.9" cy="1488.6" rx="12.2" ry="12.8" fill="#0000FF"/>
<ellipse cx="412.2" cy="1434.3" rx="12.2" ry="12.8" fill="#0000FF"/>
<ellipse cx="453.4" cy="1377.6" rx="12.2" ry="12.8" fill="#0000FF"/>
<ellipse cx="486.9" cy="1314.0" rx="12.2" ry="12.8" fill="#0000FF"/>
<ellipse cx="508.8" cy="1256.6" rx="12.2" ry="12.8" fill="#0000FF"/>
<ellipse cx="529.3" cy="1194.2" rx="12.2" ry="12.8" fill="#0000FF"/>
<ellipse cx="547.2" cy="1133.7" rx="12.2" ry="12.8" fill="#0000FF"/>
<ellipse cx="565.1" cy="1068.1" rx="12.2" ry="12.8" fill="#0000FF"/>
<ellipse cx="587.2" cy="992.5" rx="12.2" ry="12.8" fill="#0000FF"/>
<ellipse cx="605.4" cy="921.3" rx="12.2" ry="12.8" fill="#0000FF"/>
<ellipse cx="624.4" cy="850.5" rx="12.2" ry="12.8" fill="#0000FF"/>
<ellipse cx="643.1" cy="780.7" rx="12.2" ry="12.8" fill="#0000FF"/>
<ellipse cx="665.7" cy="706.0" rx="12.2" ry="12.8" fill="#0000FF"/>
<ellipse cx="683.9" cy="643.2" rx="12.2" ry="12.8" fill="#0000FF"/>
<ellipse cx="703.4" cy="576.2" rx="12.2" ry="12.8" fill="#0000FF"/>
<ellipse cx="725.8" cy="511.7" rx="12.2" ry="12.8" fill="#0000FF"/>
<ellipse cx="742.5" cy="460.1" rx="12.2" ry="12.8" fill="#0000FF"/>
<ellipse cx="773.5" cy="384.2" rx="12.2" ry="12.8" fill="#0000FF"/>
<ellipse cx="822.1" cy="340.3" rx="12.2" ry="12.8" fill="#0000FF"/>
<ellipse cx="862.2" cy="391.4" rx="12.2" ry="12.8" fill="#0000FF"/>
<ellipse cx="886.6" cy="453.6" rx="12.2" ry="12.8" fill="#0000FF"/>
<ellipse cx="912.2" cy="525.7" rx="12.2" ry="12.8" fill="#0000FF"/>
<ellipse cx="933.8" cy="596.0" rx="12.2" ry="12.8" fill="#0000FF"/>
<ellipse cx="958.3" cy="673.5" rx="12.2" ry="12.8" fill="#0000FF"/>
<ellipse cx="980.9" cy="746.5" rx="12.2" ry="12.8" fill="#0000FF"/>
<ellipse cx="1007.5" cy="808.7" rx="12.2" ry="12.8" fill="#0000FF"/>
<ellipse cx="1034.9" cy="881.3" rx="12.2" ry="12.8" fill="#0000FF"/>
<ellipse cx="1060.5" cy="937.8" rx="12.2" ry="12.8" fill="#0000FF"/>
<ellipse cx="1086.6" cy="1008.8" rx="12.2" ry="12.8" fill="#0000FF"/>
<ellipse cx="1112.2" cy="1072.1" rx="12.2" ry="12.8" fill="#0000FF"/>
<ellipse cx="1135.0" cy="1126.5" rx="12.2" ry="12.8" fill="#0000FF"/>
<ellipse cx="1165.0" cy="1191.4" rx="12.2" ry="12.8" fill="#0000FF"/>
<ellipse cx="1198.6" cy="1258.8" rx="12.2" ry="12.8" fill="#0000FF"/>
<ellipse cx="1227.8" cy="1316.5" rx="12.2" ry="12.8" fill="#0000FF"/>
<ellipse cx="1264.2" cy="1372.5" rx="12.2" ry="12.8" fill="#0000FF"/>
<ellipse cx="1315.0" cy="1427.9" rx="12.2" ry="12.8" fill="#0000FF"/>
<ellipse cx="1369.0" cy="1469.6" rx="12.2" ry="12.8" fill="#0000FF"/>
<ellipse cx="1422.7" cy="1497.8" rx="12.2" ry="12.8" fill="#0000FF"/>
<ellipse cx="1476.8" cy="1516.2" rx="12.2" ry="12.8" fill="#0000FF"/>
<ellipse cx="1531.3" cy="1529.6" rx="12.2" ry="12.8" fill="#0000FF"/>
<ellipse cx="1585.4" cy="1539.8" rx="12.2" ry="12.8" fill="#0000FF"/>
<ellipse cx="1639.6" cy="1552.5" rx="12.2" ry="12.8" fill="#0000FF"/>
<ellipse cx="1691.3" cy="1560.0" rx="12.2" ry="12.8" fill="#0000FF"/>
<path d="M244.3,1455.6 C256.7,1439.8 269.1,1426.1 281.5,1408.3 C294.3,1389.9 307.1,1369.5 319.9,1345.0 C329.1,1327.4 338.3,1306.2 347.5,1283.1 C354.1,1266.5 360.7,1247.4 367.3,1227.3 C374.0,1207.0 380.6,1183.3 387.3,1161.0 C393.1,1141.5 399.0,1122.4 404.8,1101.8 C411.0,1079.9 417.2,1055.1 423.4,1033.2 C431.2,1005.8 438.9,983.1 446.7,954.5 C452.3,934.0 457.8,909.9 463.4,887.8 C469.4,864.1 475.3,838.7 481.3,817.3 C488.7,790.9 496.0,768.5 503.4,745.1 C511.1,720.5 518.9,699.0 526.6,673.5 C532.5,654.0 538.4,631.3 544.3,611.1 C551.0,588.2 557.6,566.0 564.3,544.3 C570.8,523.1 577.3,502.2 583.8,482.2 C590.6,461.2 597.5,437.4 604.3,421.5 C617.4,391.0 630.5,355.6 643.6,348.9 C652.5,344.3 661.5,340.5 670.4,340.5 C678.2,340.5 685.9,352.2 693.7,361.7 C703.9,374.2 714.2,397.2 724.4,421.5 C732.5,440.8 740.7,470.7 748.8,494.3 C756.3,516.0 763.7,536.0 771.2,557.8 C779.3,581.3 787.3,604.3 795.4,630.4 C802.8,654.3 810.1,685.6 817.5,708.0 C826.4,735.1 835.4,755.7 844.3,779.1 C853.0,801.9 861.7,824.1 870.4,846.4 C878.4,866.9 886.4,888.2 894.4,907.6 C903.5,929.6 912.5,947.4 921.6,970.4 C930.1,992.1 938.7,1021.3 947.2,1042.5 C956.0,1064.2 964.7,1080.9 973.5,1100.7 C981.9,1119.6 990.2,1140.0 998.6,1158.3 C1009.4,1181.9 1020.1,1203.1 1030.9,1225.7 C1040.8,1246.4 1050.6,1269.8 1060.5,1288.0 C1071.5,1308.3 1082.5,1325.6 1093.5,1341.9 C1108.4,1364.0 1123.4,1385.4 1138.3,1402.0 C1155.7,1421.4 1173.0,1438.3 1190.4,1451.3 C1208.6,1465.0 1226.9,1475.6 1245.1,1485.1 C1263.1,1494.4 1281.0,1502.8 1299.0,1509.3 C1317.0,1515.8 1334.9,1521.3 1352.9,1525.5 C1370.9,1529.8 1388.9,1532.9 1406.9,1536.0 C1424.9,1539.1 1442.8,1541.4 1460.8,1544.4 C1478.4,1547.3 1496.1,1550.2 1513.7,1553.8 C1523.2,1555.8 1532.7,1558.3 1542.2,1560.6" fill="none" stroke="#FF0000" stroke-width="7.2" stroke-linejoin="round" stroke-linecap="butt"/>
<polygon points="281.5,1393.7 293.0,1401.0 293.0,1415.6 281.5,1422.9 270.0,1415.6 270.0,1401.0" fill="#FF0000"/>
<polygon points="319.9,1330.4 331.4,1337.7 331.4,1352.3 319.9,1359.6 308.4,1352.3 308.4,1337.7" fill="#FF0000"/>
<polygon points="347.5,1268.5 359.0,1275.8 359.0,1290.4 347.5,1297.7 336.0,1290.4 336.0,1275.8" fill="#FF0000"/>
<polygon points="367.3,1212.7 378.8,1220.0 378.8,1234.6 367.3,1241.9 355.8,1234.6 355.8,1220.0" fill="#FF0000"/>
<polygon points="387.3,1146.4 398.8,1153.7 398.8,1168.3 387.3,1175.6 375.8,1168.3 375.8,1153.7" fill="#FF0000"/>
<polygon points="404.8,1087.2 416.3,1094.5 416.3,1109.1 404.8,1116.4 393.3,1109.1 393.3,1094.5" fill="#FF0000"/>
<polygon points="423.4,1018.6 434.9,1025.9 434.9,1040.5 423.4,1047.8 411.9,1040.5 411.9,1025.9" fill="#FF0000"/>
<polygon points="446.7,939.9 458.2,947.2 458.2,961.8 446.7,969.1 435.2,961.8 435.2,947.2" fill="#FF0000"/>
<polygon points="463.4,873.2 474.9,880.5 474.9,895.1 463.4,902.4 451.9,895.1 451.9,880.5" fill="#FF0000"/>
<polygon points="481.3,802.7 492.8,810.0 492.8,824.6 481.3,831.9 469.8,824.6 469.8,810.0" fill="#FF0000"/>
<polygon points="503.4,730.5 514.9,737.8 514.9,752.4 503.4,759.7 491.9,752.4 491.9,737.8" fill="#FF0000"/>
<polygon points="526.6,658.9 538.1,666.2 538.1,680.8 526.6,688.1 515.1,680.8 515.1,666.2" fill="#FF0000"/>
<polygon points="544.3,596.5 555.8,603.8 555.8,618.4 544.3,625.7 532.8,618.4 532.8,603.8" fill="#FF0000"/>
<polygon points="564.3,529.7 575.8,537.0 575.8,551.6 564.3,558.9 552.8,551.6 552.8,537.0" fill="#FF0000"/>
<polygon points="583.8,467.6 595.3,474.9 595.3,489.5 583.8,496.8 572.3,489.5 572.3,474.9" fill="#FF0000"/>
<polygon points="604.3,406.9 615.8,414.2 615.8,428.8 604.3,436.1 592.8,428.8 592.8,414.2" fill="#FF0000"/>
<polygon points="643.6,334.3 655.1,341.6 655.1,356.2 643.6,363.5 632.1,356.2 632.1,341.6" fill="#FF0000"/>
<polygon points="693.7,347.1 705.2,354.4 705.2,369.0 693.7,376.3 682.2,369.0 682.2,354.4" fill="#FF0000"/>
<polygon points="724.4,406.9 735.9,414.2 735.9,428.8 724.4,436.1 712.9,428.8 712.9,414.2" fill="#FF0000"/>
<polygon points="748.8,479.7 760.3,487.0 760.3,501.6 748.8,508.9 737.3,501.6 737.3,487.0" fill="#FF0000"/>
<polygon points="771.2,543.2 782.7,550.5 782.7,565.1 771.2,572.4 759.7,565.1 759.7,550.5" fill="#FF0000"/>
<polygon points="795.4,615.8 806.9,623.1 806.9,637.7 795.4,645.0 783.9,637.7 783.9,623.1" fill="#FF0000"/>
<polygon points="817.5,693.4 829.0,700.7 829.0,715.3 817.5,722.6 806.0,715.3 806.0,700.7" fill="#FF0000"/>
<polygon points="844.3,764.5 855.8,771.8 855.8,786.4 844.3,793.7 832.8,786.4 832.8,771.8" fill="#FF0000"/>
<polygon points="870.4,831.8 881.9,839.1 881.9,853.7 870.4,861.0 858.9,853.7 858.9,839.1" fill="#FF0000"/>
<polygon points="894.4,893.0 905.9,900.3 905.9,914.9 894.4,922.2 882.9,914.9 882.9,900.3" fill="#FF0000"/>
<polygon points="921.6,955.8 933.1,963.1 933.1,977.7 921.6,985.0 910.1,977.7 910.1,963.1" fill="#FF0000"/>
<polygon points="947.2,1027.9 958.7,1035.2 958.7,1049.8 947.2,1057.1 935.7,1049.8 935.7,1035.2" fill="#FF0000"/>
<polygon points="973.5,1086.1 985.0,1093.4 985.0,1108.0 973.5,1115.3 962.0,1108.0 962.0,1093.4" fill="#FF0000"/>
<polygon points="998.6,1143.7 1010.1,1151.0 1010.1,1165.6 998.6,1172.9 987.1,1165.6 987.1,1151.0" fill="#FF0000"/>
<polygon points="1030.9,1211.1 1042.4,1218.4 1042.4,1233.0 1030.9,1240.3 1019.4,1233.0 1019.4,1218.4" fill="#FF0000"/>
<polygon points="1060.5,1273.4 1072.0,1280.7 1072.0,1295.3 1060.5,1302.6 1049.0,1295.3 1049.0,1280.7" fill="#FF0000"/>
<polygon points="1093.5,1327.3 1105.0,1334.6 1105.0,1349.2 1093.5,1356.5 1082.0,1349.2 1082.0,1334.6" fill="#FF0000"/>
<polygon points="1138.3,1387.4 1149.8,1394.7 1149.8,1409.3 1138.3,1416.6 1126.8,1409.3 1126.8,1394.7" fill="#FF0000"/>
<polygon points="1190.4,1436.7 1201.9,1444.0 1201.9,1458.6 1190.4,1465.9 1178.9,1458.6 1178.9,1444.0" fill="#FF0000"/>
<polygon points="1245.1,1470.5 1256.6,1477.8 1256.6,1492.4 1245.1,1499.7 1233.6,1492.4 1233.6,1477.8" fill="#FF0000"/>
<polygon points="1299.0,1494.7 1310.5,1502.0 1310.5,1516.6 1299.0,1523.9 1287.5,1516.6 1287.5,1502.0" fill="#FF0000"/>
<polygon points="1352.9,1510.9 1364.4,1518.2 1364.4,1532.8 1352.9,1540.1 1341.4,1532.8 1341.4,1518.2" fill="#FF0000"/>
<polygon points="1406.9,1521.4 1418.4,1528.7 1418.4,1543.3 1406.9,1550.6 1395.4,1543.3 1395.4,1528.7" fill="#FF0000"/>
<polygon points="1460.8,1529.8 1472.3,1537.1 1472.3,1551.7 1460.8,1559.0 1449.3,1551.7 1449.3,1537.1" fill="#FF0000"/>
<polygon points="1513.7,1539.2 1525.2,1546.5 1525.2,1561.1 1513.7,1568.4 1502.2,1561.1 1502.2,1546.5" fill="#FF0000"/>
</g>
<g stroke="#000" stroke-width="7" stroke-linecap="butt" fill="none">
<rect x="254.3" y="36.6" width="1783.2" height="1535.9" stroke-linejoin="miter" stroke-linecap="butt"/>
<line x1="254.3" y1="1572.5" x2="254.3" y2="1605.2"/>
<line x1="322.9" y1="1572.5" x2="322.9" y2="1590.1"/>
<line x1="322.9" y1="36.6" x2="322.9" y2="52.7"/>
<line x1="391.5" y1="1572.5" x2="391.5" y2="1605.2"/>
<line x1="391.5" y1="36.6" x2="391.5" y2="67.7"/>
<line x1="460.1" y1="1572.5" x2="460.1" y2="1590.1"/>
<line x1="460.1" y1="36.6" x2="460.1" y2="52.7"/>
<line x1="528.6" y1="1572.5" x2="528.6" y2="1605.2"/>
<line x1="528.6" y1="36.6" x2="528.6" y2="67.7"/>
<line x1="597.2" y1="1572.5" x2="597.2" y2="1590.1"/>
<line x1="597.2" y1="36.6" x2="597.2" y2="52.7"/>
<line x1="665.8" y1="1572.5" x2="665.8" y2="1605.2"/>
<line x1="665.8" y1="36.6" x2="665.8" y2="67.7"/>
<line x1="734.4" y1="1572.5" x2="734.4" y2="1590.1"/>
<line x1="734.4" y1="36.6" x2="734.4" y2="52.7"/>
<line x1="803.0" y1="1572.5" x2="803.0" y2="1605.2"/>
<line x1="803.0" y1="36.6" x2="803.0" y2="67.7"/>
<line x1="871.6" y1="1572.5" x2="871.6" y2="1590.1"/>
<line x1="871.6" y1="36.6" x2="871.6" y2="52.7"/>
<line x1="940.1" y1="1572.5" x2="940.1" y2="1605.2"/>
<line x1="940.1" y1="36.6" x2="940.1" y2="67.7"/>
<line x1="1008.7" y1="1572.5" x2="1008.7" y2="1590.1"/>
<line x1="1008.7" y1="36.6" x2="1008.7" y2="52.7"/>
<line x1="1077.3" y1="1572.5" x2="1077.3" y2="1605.2"/>
<line x1="1077.3" y1="36.6" x2="1077.3" y2="67.7"/>
<line x1="1145.9" y1="1572.5" x2="1145.9" y2="1590.1"/>
<line x1="1145.9" y1="36.6" x2="1145.9" y2="52.7"/>
<line x1="1214.5" y1="1572.5" x2="1214.5" y2="1605.2"/>
<line x1="1214.5" y1="36.6" x2="1214.5" y2="67.7"/>
<line x1="1283.1" y1="1572.5" x2="1283.1" y2="1590.1"/>
<line x1="1283.1" y1="36.6" x2="1283.1" y2="52.7"/>
<line x1="1351.7" y1="1572.5" x2="1351.7" y2="1605.2"/>
<line x1="1351.7" y1="36.6" x2="1351.7" y2="67.7"/>
<line x1="1420.2" y1="1572.5" x2="1420.2" y2="1590.1"/>
<line x1="1420.2" y1="36.6" x2="1420.2" y2="52.7"/>
<line x1="1488.8" y1="1572.5" x2="1488.8" y2="1605.2"/>
<line x1="1488.8" y1="36.6" x2="1488.8" y2="67.7"/>
<line x1="1557.4" y1="1572.5" x2="1557.4" y2="1590.1"/>
<line x1="1557.4" y1="36.6" x2="1557.4" y2="52.7"/>
<line x1="1626.0" y1="1572.5" x2="1626.0" y2="1605.2"/>
<line x1="1626.0" y1="36.6" x2="1626.0" y2="67.7"/>
<line x1="1694.6" y1="1572.5" x2="1694.6" y2="1590.1"/>
<line x1="1694.6" y1="36.6" x2="1694.6" y2="52.7"/>
<line x1="1763.2" y1="1572.5" x2="1763.2" y2="1605.2"/>
<line x1="1763.2" y1="36.6" x2="1763.2" y2="67.7"/>
<line x1="1831.8" y1="1572.5" x2="1831.8" y2="1590.1"/>
<line x1="1831.8" y1="36.6" x2="1831.8" y2="52.7"/>
<line x1="1900.3" y1="1572.5" x2="1900.3" y2="1605.2"/>
<line x1="1900.3" y1="36.6" x2="1900.3" y2="67.7"/>
<line x1="1968.9" y1="1572.5" x2="1968.9" y2="1590.1"/>
<line x1="1968.9" y1="36.6" x2="1968.9" y2="52.7"/>
<line x1="2037.5" y1="1572.5" x2="2037.5" y2="1605.2"/>
<line x1="254.3" y1="1560.3" x2="223.2" y2="1560.3"/>
<line x1="2037.5" y1="1560.3" x2="2006.4" y2="1560.3"/>
<line x1="254.3" y1="1407.9" x2="237.0" y2="1407.9"/>
<line x1="2037.5" y1="1407.9" x2="2020.4" y2="1407.9"/>
<line x1="254.3" y1="1255.6" x2="223.2" y2="1255.6"/>
<line x1="2037.5" y1="1255.6" x2="2006.4" y2="1255.6"/>
<line x1="254.3" y1="1103.2" x2="237.0" y2="1103.2"/>
<line x1="2037.5" y1="1103.2" x2="2020.4" y2="1103.2"/>
<line x1="254.3" y1="950.8" x2="223.2" y2="950.8"/>
<line x1="2037.5" y1="950.8" x2="2006.4" y2="950.8"/>
<line x1="254.3" y1="798.4" x2="237.0" y2="798.4"/>
<line x1="2037.5" y1="798.4" x2="2020.4" y2="798.4"/>
<line x1="254.3" y1="646.1" x2="223.2" y2="646.1"/>
<line x1="2037.5" y1="646.1" x2="2006.4" y2="646.1"/>
<line x1="254.3" y1="493.7" x2="237.0" y2="493.7"/>
<line x1="2037.5" y1="493.7" x2="2020.4" y2="493.7"/>
<line x1="254.3" y1="341.3" x2="223.2" y2="341.3"/>
<line x1="2037.5" y1="341.3" x2="2006.4" y2="341.3"/>
<line x1="254.3" y1="189.0" x2="237.0" y2="189.0"/>
<line x1="2037.5" y1="189.0" x2="2020.4" y2="189.0"/>
<line x1="254.3" y1="36.6" x2="223.2" y2="36.6"/>
</g>
<g font-family="'Liberation Serif','Times New Roman',serif" font-size="55.4" fill="#000">
<text transform="translate(254.3,1668) scale(1,1.145)" text-anchor="middle">400</text>
<text transform="translate(391.5,1668) scale(1,1.145)" text-anchor="middle">425</text>
<text transform="translate(528.6,1668) scale(1,1.145)" text-anchor="middle">450</text>
<text transform="translate(665.8,1668) scale(1,1.145)" text-anchor="middle">475</text>
<text transform="translate(803.0,1668) scale(1,1.145)" text-anchor="middle">500</text>
<text transform="translate(940.1,1668) scale(1,1.145)" text-anchor="middle">525</text>
<text transform="translate(1077.3,1668) scale(1,1.145)" text-anchor="middle">550</text>
<text transform="translate(1214.5,1668) scale(1,1.145)" text-anchor="middle">575</text>
<text transform="translate(1351.7,1668) scale(1,1.145)" text-anchor="middle">600</text>
<text transform="translate(1488.8,1668) scale(1,1.145)" text-anchor="middle">625</text>
<text transform="translate(1626.0,1668) scale(1,1.145)" text-anchor="middle">650</text>
<text transform="translate(1763.2,1668) scale(1,1.145)" text-anchor="middle">675</text>
<text transform="translate(1900.3,1668) scale(1,1.145)" text-anchor="middle">700</text>
<text transform="translate(2037.5,1668) scale(1,1.145)" text-anchor="middle">725</text>
<text transform="translate(207.5,1575.8) scale(1,1.145)" text-anchor="end">0.00</text>
<text transform="translate(207.5,1271.1) scale(1,1.145)" text-anchor="end">0.25</text>
<text transform="translate(207.5,966.3) scale(1,1.145)" text-anchor="end">0.50</text>
<text transform="translate(207.5,661.6) scale(1,1.145)" text-anchor="end">0.75</text>
<text transform="translate(207.5,356.8) scale(1,1.145)" text-anchor="end">1.00</text>
<text transform="translate(207.5,52.1) scale(1,1.145)" text-anchor="end">1.25</text>
</g>
<text font-family="'Liberation Serif','Times New Roman',serif" font-size="67.3" transform="translate(1147.5,1786) scale(1,1.117)" text-anchor="middle">Wavelength (nm)</text>
<text font-family="'Liberation Serif','Times New Roman',serif" font-size="74" transform="translate(69.5,811) rotate(-90) scale(1,1.03)" text-anchor="middle">Intensity (a.u.)</text>
<text font-family="'Liberation Serif','Times New Roman',serif" font-size="86" transform="translate(1044,1904.5) scale(1,1.0)" text-anchor="middle">(<tspan font-weight="bold">b</tspan>)</text>
<line x1="1554.5" y1="161.5" x2="1707.3" y2="161.5" stroke="#FF8000" stroke-width="7" stroke-linecap="round"/>
<polygon points="1630.9,139.8 1635.9,154.0 1649.7,154.8 1639.0,164.4 1642.5,179.1 1630.9,170.8 1619.3,179.1 1622.8,164.4 1612.1,154.8 1625.9,154.0" fill="#fff" stroke="#FF8000" stroke-width="3.9" stroke-linejoin="bevel"/>
<text font-family="'Liberation Serif','Times New Roman',serif" font-size="66.3" transform="translate(1726,186.0) scale(1,1.14)">5 kGy</text>
<line x1="1554.5" y1="251.5" x2="1707.3" y2="251.5" stroke="#000080" stroke-width="7" stroke-linecap="round"/>
<polygon points="1630.9,238.7 1641.2,245.1 1641.2,258.0 1630.9,264.4 1620.6,258.0 1620.6,245.1" fill="#fff" stroke="#000080" stroke-width="2.8"/>
<text font-family="'Liberation Serif','Times New Roman',serif" font-size="66.3" transform="translate(1726,276.0) scale(1,1.14)">10 kGy</text>
<line x1="1554.5" y1="341.6" x2="1707.3" y2="341.6" stroke="#008000" stroke-width="7" stroke-linecap="round"/>
<polygon points="1630.9,325.6 1646.4,341.6 1630.9,357.6 1615.4,341.6" fill="#008000"/>
<text font-family="'Liberation Serif','Times New Roman',serif" font-size="66.3" transform="translate(1726,366.1) scale(1,1.14)">20 kGy</text>
<line x1="1554.5" y1="431.6" x2="1707.3" y2="431.6" stroke="#940000" stroke-width="7" stroke-linecap="round"/>
<polygon points="1630.9,414.4 1645.3,441.4 1616.5,441.4" fill="#940000"/>
<text font-family="'Liberation Serif','Times New Roman',serif" font-size="66.3" transform="translate(1726,456.1) scale(1,1.14)">30 kGy</text>
<line x1="1554.5" y1="521.7" x2="1707.3" y2="521.7" stroke="#0000FF" stroke-width="7" stroke-linecap="round"/>
<ellipse cx="1630.9" cy="521.7" rx="12.2" ry="12.8" fill="#0000FF"/>
<text font-family="'Liberation Serif','Times New Roman',serif" font-size="66.3" transform="translate(1726,546.2) scale(1,1.14)">40 kGy</text>
<line x1="1554.5" y1="611.7" x2="1707.3" y2="611.7" stroke="#FF0000" stroke-width="7" stroke-linecap="round"/>
<polygon points="1630.9,597.1 1642.4,604.4 1642.4,619.0 1630.9,626.3 1619.4,619.0 1619.4,604.4" fill="#FF0000"/>
<text font-family="'Liberation Serif','Times New Roman',serif" font-size="66.3" transform="translate(1726,636.2) scale(1,1.14)">50 kGy</text>
</svg>
</body></html>
